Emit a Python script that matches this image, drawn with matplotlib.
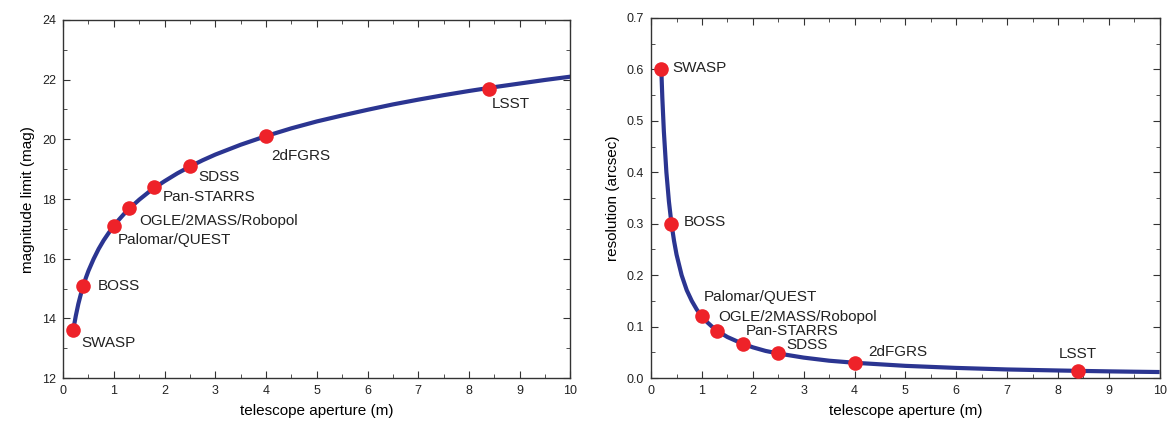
import matplotlib

matplotlib.use("Agg")
import matplotlib.pyplot as plt
from matplotlib.ticker import MultipleLocator

plt.rcParams.update(
    {
        "font.family": ["Liberation Sans", "DejaVu Sans"],
        "font.size": 9,
        "axes.linewidth": 1.0,
        "axes.edgecolor": "#333333",
    }
)

# surveys: aperture (m), limiting magnitude, resolution (arcsec)
names = ["SWASP", "BOSS", "Palomar/QUEST", "OGLE/2MASS/Robopol",
         "Pan-STARRS", "SDSS", "2dFGRS", "LSST"]
aperture = [0.2, 0.4, 1.0, 1.3, 1.8, 2.5, 4.0, 8.4]
maglim = [13.6, 15.1, 17.1, 17.7, 18.4, 19.1, 20.1, 21.7]
resol = [0.6, 0.3, 0.12, 0.092, 0.067, 0.048, 0.03, 0.0143]

# trend curves
curve_x = [0.2, 0.22, 0.25, 0.3, 0.35, 0.4, 0.45, 0.5, 0.6, 0.7, 0.8, 0.9,
           1.0, 1.1, 1.2, 1.35, 1.5, 1.75, 2.0, 2.25, 2.5, 2.75, 3.0, 3.5,
           4.0, 4.5, 5.0, 5.5, 6.0, 6.5, 7.0, 7.5, 8.0, 8.5, 9.0, 9.5, 10.0]
curve_mag = [13.6, 13.81, 14.09, 14.49, 14.82, 15.11, 15.37, 15.6, 15.99,
             16.33, 16.62, 16.87, 17.1, 17.31, 17.5, 17.75, 17.98, 18.32,
             18.6, 18.86, 19.09, 19.3, 19.49, 19.82, 20.11, 20.37, 20.6,
             20.8, 20.99, 21.17, 21.33, 21.48, 21.62, 21.75, 21.87, 21.99,
             22.1]
curve_res = [0.6, 0.545, 0.48, 0.4, 0.343, 0.3, 0.267, 0.24, 0.2, 0.171,
             0.15, 0.133, 0.12, 0.109, 0.1, 0.089, 0.08, 0.069, 0.06,
             0.053, 0.048, 0.044, 0.04, 0.034, 0.03, 0.027, 0.024, 0.022,
             0.02, 0.0185, 0.017, 0.016, 0.015, 0.0141, 0.0133, 0.0126,
             0.012]

# label offsets in points (dx, dy, ha)
mag_offsets = [(6, -9, "left"), (10, 0, "left"), (3, -10, "left"),
               (7, -9, "left"), (6, -7, "left"), (6, -8, "left"),
               (4, -14, "left"), (2, -11, "left")]
res_offsets = [(8, 1, "left"), (9, 1, "left"), (1, 14, "left"),
               (1, 10, "left"), (2, 9, "left"), (6, 6, "left"),
               (10, 8, "left"), (0, 12, "center")]

LINE = "#2b3591"
DOT = "#ee2229"

fig = plt.figure(figsize=(11.69, 4.24), dpi=100)
ax1 = fig.add_axes([0.054, 0.108, 0.434, 0.845])
ax2 = fig.add_axes([0.557, 0.108, 0.435, 0.850])


def style(ax):
    ax.xaxis.set_major_locator(MultipleLocator(1))
    ax.xaxis.set_minor_locator(MultipleLocator(0.5))
    ax.tick_params(which="both", direction="in", top=True, right=True,
                   labelsize=9, colors="#333333", labelcolor="#222222")
    ax.tick_params(which="major", length=5, pad=5)
    ax.tick_params(which="minor", length=3)
    ax.set_xlim(0, 10)
    ax.set_xlabel("telescope aperture (m)", fontsize=11, labelpad=5)


ax1.plot(curve_x, curve_mag, color=LINE, lw=3, solid_capstyle="butt", zorder=2)
ax1.plot(aperture, maglim, "o", color=DOT, ms=10.5, mec="none", zorder=3)
for n, x, y, (dx, dy, ha) in zip(names, aperture, maglim, mag_offsets):
    ax1.annotate(n, (x, y), xytext=(dx, dy), textcoords="offset points",
                 ha=ha, va="center", fontsize=11, color="#222222")
style(ax1)
ax1.set_ylim(12, 24)
ax1.yaxis.set_major_locator(MultipleLocator(2))
ax1.yaxis.set_minor_locator(MultipleLocator(1))
ax1.set_ylabel("magnitude limit (mag)", fontsize=11, labelpad=5)

ax2.plot(curve_x, curve_res, color=LINE, lw=3, solid_capstyle="butt", zorder=2)
ax2.plot(aperture, resol, "o", color=DOT, ms=10.5, mec="none", zorder=3)
for n, x, y, (dx, dy, ha) in zip(names, aperture, resol, res_offsets):
    ax2.annotate(n, (x, y), xytext=(dx, dy), textcoords="offset points",
                 ha=ha, va="center", fontsize=11, color="#222222")
style(ax2)
ax2.set_ylim(0, 0.7)
ax2.yaxis.set_major_locator(MultipleLocator(0.1))
ax2.yaxis.set_minor_locator(MultipleLocator(0.05))
ax2.yaxis.set_major_formatter(plt.FormatStrFormatter("%.1f"))
ax2.set_ylabel("resolution (arcsec)", fontsize=11, labelpad=5)

fig.savefig("out.png", dpi=100)
